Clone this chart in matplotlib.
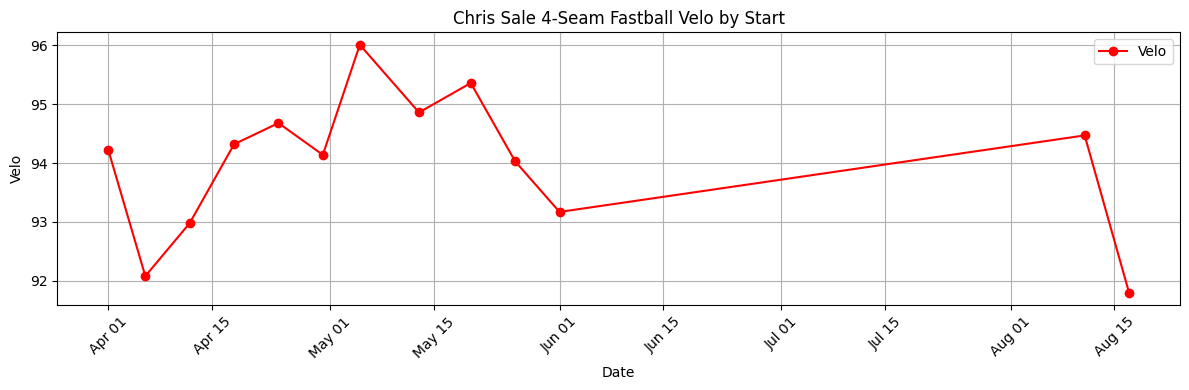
import matplotlib
matplotlib.use('Agg')
import matplotlib.pyplot as plt
import matplotlib.dates as mdates
import pandas as pd

# starts (2023) and average 4-seam velocity
dates = ['2023-04-01', '2023-04-06', '2023-04-12', '2023-04-18', '2023-04-24',
         '2023-04-30', '2023-05-05', '2023-05-13', '2023-05-20', '2023-05-26',
         '2023-06-01', '2023-08-11', '2023-08-17']
velo = [94.22, 92.08, 92.98, 94.32, 94.68, 94.14, 96.01, 94.86, 95.36,
        94.03, 93.17, 94.47, 91.80]


def draw_chart(dates, velo):
    x = pd.to_datetime(dates)
    fig, ax = plt.subplots(figsize=(11.89, 3.9), dpi=100)
    ax.plot(x, velo, color='red', marker='o', label='Velo')
    ax.set_title('Chris Sale 4-Seam Fastball Velo by Start')
    ax.set_xlabel('Date')
    ax.set_ylabel('Velo')
    ax.xaxis.set_major_locator(mdates.DayLocator(bymonthday=[1, 15]))
    ax.xaxis.set_major_formatter(mdates.DateFormatter('%b %d'))
    plt.xticks(rotation=45)
    ax.grid(True)
    ax.legend()
    fig.subplots_adjust(left=0.0482, right=0.9925, top=0.917, bottom=0.218)
    fig.savefig('out.png')


if __name__ == "__main__":
    draw_chart(dates, velo)
